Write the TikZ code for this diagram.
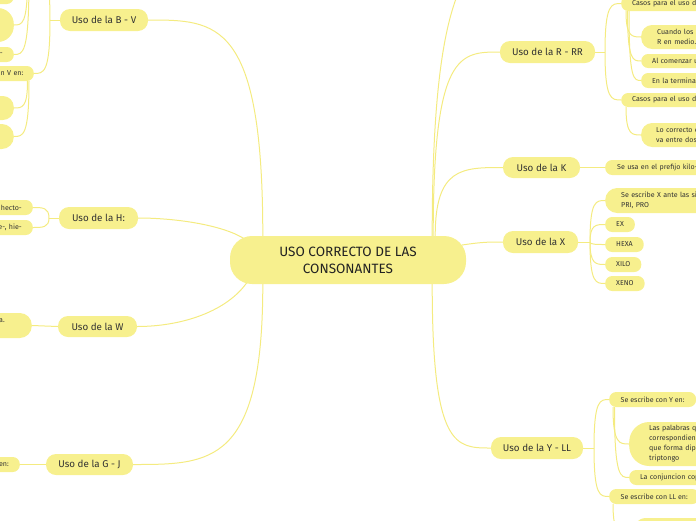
\documentclass[tikz,border=0pt]{standalone}
\usepackage{fontspec}
\setmainfont{Fira Sans}
\usetikzlibrary{calc,backgrounds}
\definecolor{nodeY}{HTML}{F7F08E}
\definecolor{lineY}{HTML}{F4EB80}
\definecolor{txt}{HTML}{333333}
\definecolor{txtmain}{HTML}{222222}
\tikzset{
  mainbox/.style={fill=nodeY, rounded corners=22pt, minimum width=236pt, minimum height=48pt,
    inner sep=0pt, align=center, text=txtmain, font=\fontsize{13.5}{17}\selectfont},
  topic/.style={fill=nodeY, rounded corners=10pt, minimum height=22pt, inner sep=0pt,
    text=txt, font=\fontsize{9.8}{12}\selectfont},
  leaf/.style={fill=nodeY, rounded corners=7pt, minimum height=15pt, inner ysep=0pt,
    inner xsep=11pt, text=txt, font=\fontsize{7.1}{10}\selectfont, align=left},
  leafR/.style={leaf, anchor=west},
  leafL/.style={leaf, anchor=east, align=right},
  conn/.style={draw=lineY, line width=1pt},
  branch/.style={to path={.. controls (\tikztostart |- \tikztotarget) and
    ($(\tikztostart |- \tikztotarget)!0.4!(\tikztotarget)$) .. (\tikztotarget)}},
}
\begin{document}
\begin{tikzpicture}[x=1pt,y=-1pt]
\useasboundingbox (0,0) rectangle (696,520);
\clip (0,0) rectangle (696,520);

% central topic
\node[mainbox] (main) at (348,260) {USO CORRECTO DE LAS\\CONSONANTES};

% main branches
\node[topic, minimum width=88pt] (bv) at (104,20) {Uso de la B - V};
\node[topic, minimum width=79pt] (h) at (98.5,218) {Uso de la H:};
\node[topic, minimum width=79pt, minimum height=21pt] (w) at (97.5,326.5) {Uso de la W};
\node[topic, minimum width=87pt, minimum height=21pt] (gj) at (89.5,464.5) {Uso de la G - J};
\node[topic, minimum width=95pt] (rr) at (547.5,52) {Uso de la R - RR};
\node[topic, minimum width=77pt, minimum height=21pt] (k) at (541.5,167.5) {Uso de la K};
\node[topic, minimum width=75pt] (x) at (540.5,242) {Uso de la X};
\node[topic, minimum width=92pt] (yll) at (537,448) {Uso de la Y - LL};

% right side leaves: R - RR
\node[leafR, text width=150pt] (casos1) at (621,3.5) {Casos para el uso d};
\node[leafR, minimum height=24pt, rounded corners=11pt, inner xsep=16pt, text width=150pt] (cuando) at (641,37) {Cuando los s\\R en medio.};
\node[leafR, minimum height=14pt, text width=150pt] (alcom) at (641,61) {Al comenzar u};
\node[leafR, text width=150pt] (enla) at (641,80.5) {En la terminac};
\node[leafR, minimum height=14pt, text width=150pt] (casos2) at (621,100) {Casos para el uso d};
\node[leafR, minimum height=24pt, rounded corners=11pt, inner xsep=15pt, text width=150pt] (locorr) at (641,135) {Lo correcto e\\va entre dos};

% K
\node[leafR, inner xsep=12pt, text width=150pt] (kilo) at (605,167.5) {Se usa en el prefijo kilo-};

% X
\node[leafR, minimum height=25pt, rounded corners=12pt, inner xsep=16pt, text width=150pt] (sex) at (605,200.5) {Se escribe X ante las sil\\PRI, PRO};
\node[leafR] (ex) at (605,224.5) {EX};
\node[leafR] (hexa) at (605,244.5) {HEXA};
\node[leafR] (xilo) at (605,264.5) {XILO};
\node[leafR] (xeno) at (605,283.5) {XENO};

% Y - LL
\node[leafR, inner xsep=11.5pt] (sey) at (609,399.5) {Se escribe con Y en:};
\node[leafR, minimum height=44pt, rounded corners=20pt, inner xsep=20pt, text width=150pt] (las) at (629,444) {Las palabras q\\correspondien\\que forma dip\\triptongo};
\node[leafR, text width=150pt] (laconj) at (629,477.5) {La conjuncion cop};
\node[leafR, inner xsep=11.5pt] (sell) at (609,496.5) {Se escribe con LL en:};
\node[leafR, minimum height=36pt, rounded corners=14pt, minimum width=90pt] (llchild) at (632,536) {};

% left side leaves
\node[leafL, minimum height=14pt, minimum width=50pt] (topL) at (14,-3) {};
\node[leafL, minimum height=34pt, minimum width=60pt, rounded corners=16pt] (bigA) at (14,25) {};
\node[leafL, text width=40pt] (dashL) at (14,54.5) {-};
\node[leafL, text width=40pt, inner xsep=10.5pt] (venL) at (34,73.5) {n V en:};
\node[leafL, minimum height=24pt, minimum width=60pt, rounded corners=11pt] (bigB) at (14,108) {};
\node[leafL, minimum height=25pt, minimum width=60pt, rounded corners=12pt] (bigC) at (14,136.5) {};
\node[leafL, text width=40pt] (hecto) at (33,207.5) {hecto-};
\node[leafL, text width=40pt] (hie) at (33,227.5) {e-, hie-};
\node[leafL, minimum height=25pt, rounded corners=12pt, inner xsep=27pt, text width=30pt] (wleaf) at (32,325.5) {a.\\\mbox{}};
\node[leafL, text width=30pt] (gjleaf) at (20,464.5) {en:};

% hub coordinates
\coordinate (bvhub) at (50,20);
\coordinate (bnodeE) at (34,-30);
\coordinate (bbotA) at (27.5,-22);
\coordinate (bbotB) at (29,-22);
\coordinate (hhub) at (49,218);
\coordinate (rhub) at (605,52);
\coordinate (xhub) at (590,242);
\coordinate (yhub) at (594,448);
\coordinate (offtop) at (555,-60);
\coordinate (mBV) at ($(main.north west)+(33,0)$);
\coordinate (mH) at ($(main.north west)+(16,4)$);
\coordinate (mW) at ($(main.south west)+(18,-3)$);
\coordinate (mGJ) at ($(main.south west)+(33,0)$);
\coordinate (mRR) at ($(main.north east)+(-33,0)$);
\coordinate (mK) at ($(main.north east)+(-31,0)$);
\coordinate (mTop) at ($(main.north east)+(-34,0)$);
\coordinate (mX) at ($(main.east)+(-4,-15)$);
\coordinate (mY) at ($(main.south east)+(-34,0)$);
\coordinate (vbotA) at ($(venL.south east)+(-6.5,0)$);
\coordinate (vbotB) at ($(venL.south east)+(-5,0)$);
\coordinate (c1botA) at ($(casos1.south west)+(5,0)$);
\coordinate (c1botB) at ($(casos1.south west)+(6.5,0)$);
\coordinate (c1botC) at ($(casos1.south west)+(8,0)$);
\coordinate (c2bot) at ($(casos2.south west)+(5,0)$);
\coordinate (seybotA) at ($(sey.south west)+(4,0)$);
\coordinate (seybotB) at ($(sey.south west)+(5.5,0)$);
\coordinate (sellbot) at ($(sell.south west)+(4,0)$);

\begin{scope}[on background layer]
\clip (0,0) rectangle (696,520);
% central connectors
\draw[conn] (mBV) to[branch] (bv.east);
\draw[conn] (mH) .. controls ($(mH)+(-20,-14)$) and ($(h.east)+(40,0)$) .. (h.east);
\draw[conn] (mW) .. controls ($(mW)+(-20,30)$) and ($(w.east)+(45,0)$) .. (w.east);
\draw[conn] (mGJ) to[branch] (gj.east);
\draw[conn] (mTop) to[branch] (offtop);
\draw[conn] (mRR) to[branch] (rr.west);
\draw[conn] (mK) to[branch] (k.west);
\draw[conn] (mX) .. controls ($(mX)+(20,-3)$) and ($(x.west)+(-15,0)$) .. (x.west);
\draw[conn] (mY) to[branch] (yll.west);
% B - V
\draw[conn] (bv.west) -- (bvhub);
\draw[conn] (bvhub) to[branch] (bnodeE);
\draw[conn] (bvhub) to[branch] (venL.east);
\draw[conn] (bbotA) to[branch] (topL.east);
\draw[conn] (bbotA) to[branch] (bigA.east);
\draw[conn] (bbotB) to[branch] (dashL.east);
\draw[conn] (vbotA) to[branch] (bigB.east);
\draw[conn] (vbotB) to[branch] (bigC.east);
% H
\draw[conn] (h.west) -- (hhub);
\draw[conn] (hhub) to[branch] (hecto.east);
\draw[conn] (hhub) to[branch] (hie.east);
% W, G - J
\draw[conn] (w.west) -- (wleaf.east);
\draw[conn] (gj.west) -- (gjleaf.east);
% R - RR
\draw[conn] (rr.east) -- (rhub);
\draw[conn] (rhub) to[branch] (casos1.west);
\draw[conn] (rhub) to[branch] (casos2.west);
\draw[conn] (c1botA) to[branch] (cuando.west);
\draw[conn] (c1botB) to[branch] (alcom.west);
\draw[conn] (c1botC) to[branch] (enla.west);
\draw[conn] (c2bot) to[branch] (locorr.west);
% K
\draw[conn] (k.east) -- (kilo.west);
% X
\draw[conn] (x.east) -- (xhub);
\draw[conn] (xhub) to[branch] (sex.west);
\draw[conn] (xhub) to[branch] (ex.west);
\draw[conn] (xhub) to[branch] (hexa.west);
\draw[conn] (xhub) to[branch] (xilo.west);
\draw[conn] (xhub) to[branch] (xeno.west);
% Y - LL
\draw[conn] (yll.east) -- (yhub);
\draw[conn] (yhub) to[branch] (sey.west);
\draw[conn] (yhub) to[branch] (sell.west);
\draw[conn] (seybotA) to[branch] (las.west);
\draw[conn] (seybotB) to[branch] (laconj.west);
\draw[conn] (sellbot) to[branch] (llchild.west);
\end{scope}
\end{tikzpicture}
\end{document}
